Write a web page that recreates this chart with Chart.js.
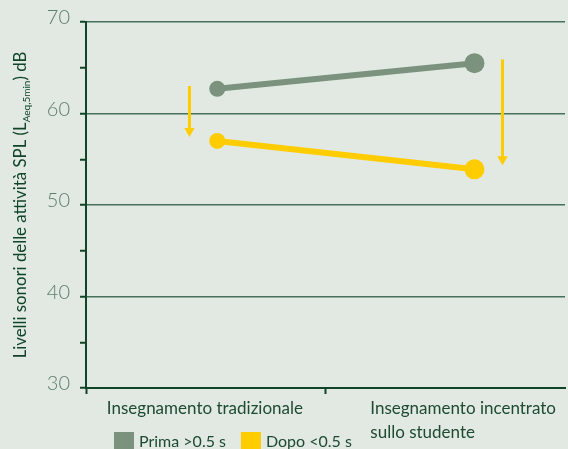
<!DOCTYPE html>
<html>
<head>
<meta charset="utf-8">
<script src="https://cdn.jsdelivr.net/npm/chart.js@4.4.0/dist/chart.umd.min.js"></script>
<style>
html, body { margin: 0; padding: 0; background: #e1e9e2; }
#wrap { width: 568px; height: 449px; }
</style>
</head>
<body>
<div id="wrap"><canvas id="myChart" width="568" height="449"></canvas></div>
<script>
const categories = ['Insegnamento tradizionale', ['Insegnamento incentrato', 'sullo studente']];
const categoryTickX = [0.087, 1.187];   // where each category label starts
const dividerX = [0, 1];
const xEnd = 2;
const pointX = [0.548, 1.622];
const seriesNames = ['Prima >0.5 s', 'Dopo <0.5 s'];
const primaValues = [62.7, 65.5];
const dopoValues = [57.0, 53.9];
const arrowX = [0.432, 1.739];
const arrowTop = [63.0, 65.9];
const arrowHead = [58.1, 55.0];
const yTicks = [30, 40, 50, 60, 70];

const DARK = '#0f4427';
const GRID = '#46705a';
const GRAY = '#7a927e';
const YELLOW = '#ffcc00';
const FONT = 'Lato, "Open Sans", sans-serif';

function arrowDataset(i) {
    return {
        label: 'arrow' + i,
        data: [{x: arrowX[i], y: arrowTop[i]}, {x: arrowX[i], y: arrowHead[i]}],
        borderColor: YELLOW,
        backgroundColor: YELLOW,
        borderWidth: 3,
        pointStyle: 'triangle',
        rotation: 180,
        pointRadius: [0, 6],
        pointBorderWidth: 0,
        pointBackgroundColor: YELLOW
    };
}

// y axis title with subscript
const yTitlePlugin = {
    id: 'yTitle',
    afterDraw(chart) {
        const ctx = chart.ctx;
        const area = chart.chartArea;
        const parts = [
            {t: 'Livelli sonori delle attività SPL (L', size: 16.8, dy: 0},
            {t: 'Aeq,5min', size: 10, dy: 4},
            {t: ') dB', size: 16.8, dy: 0}
        ];
        ctx.save();
        let total = 0;
        parts.forEach(p => {
            ctx.font = p.size + 'px ' + FONT;
            p.w = ctx.measureText(p.t).width;
            total += p.w;
        });
        ctx.translate(26, (area.top + area.bottom) / 2);
        ctx.rotate(-Math.PI / 2);
        ctx.fillStyle = DARK;
        ctx.textBaseline = 'alphabetic';
        let x = -total / 2;
        parts.forEach(p => {
            ctx.font = p.size + 'px ' + FONT;
            ctx.fillText(p.t, x, p.dy);
            x += p.w;
        });
        ctx.restore();
    }
};

// put the legend in the row of the second label line
const legendPlace = {
    id: 'legendPlace',
    afterLayout(chart) {
        const l = chart.legend;
        l.left += 99;
        l.top -= 33;
        l.bottom -= 33;
    }
};

const config = {
    type: 'line',
    data: {
        datasets: [
            {
                label: seriesNames[0],
                data: pointX.map((x, i) => ({x: x, y: primaValues[i]})),
                borderColor: GRAY,
                backgroundColor: GRAY,
                borderWidth: 6,
                pointRadius: [8, 10],
                pointBorderWidth: 0,
                pointBackgroundColor: GRAY
            },
            {
                label: seriesNames[1],
                data: pointX.map((x, i) => ({x: x, y: dopoValues[i]})),
                borderColor: YELLOW,
                backgroundColor: YELLOW,
                borderWidth: 6,
                pointRadius: [8, 10],
                pointBorderWidth: 0,
                pointBackgroundColor: YELLOW
            },
            arrowDataset(0),
            arrowDataset(1)
        ]
    },
    options: {
        responsive: false,
        animation: false,
        events: [],
        layout: {
            autoPadding: false,
            padding: {top: 22, right: -3, left: 0, bottom: -44}
        },
        scales: {
            x: {
                type: 'linear',
                min: 0,
                max: xEnd,
                afterBuildTicks: function (scale) {
                    scale.ticks = dividerX.concat(categoryTickX, [xEnd])
                        .sort((a, b) => a - b)
                        .map(v => ({value: v}));
                },
                afterFit: function (scale) {
                    scale.height = 61;
                },
                grid: {
                    drawOnChartArea: false,
                    tickLength: 6,
                    tickWidth: 2,
                    tickColor: ctx => dividerX.includes(ctx.tick.value) ? DARK : 'transparent'
                },
                border: {color: DARK, width: 2},
                ticks: {
                    autoSkip: false,
                    maxRotation: 0,
                    align: 'start',
                    padding: 3,
                    color: '#1d4a31',
                    font: {family: FONT, size: 17, lineHeight: 1.4},
                    callback: function (value) {
                        const i = categoryTickX.indexOf(value);
                        return i >= 0 ? categories[i] : '';
                    }
                }
            },
            y: {
                min: 30,
                max: 70,
                afterFit: function (scale) {
                    scale.width = 86;
                },
                grid: {
                    color: ctx => yTicks.includes(ctx.tick.value) ? GRID : 'transparent',
                    lineWidth: 1.5,
                    tickColor: DARK,
                    tickLength: 6,
                    tickWidth: 2
                },
                border: {color: DARK, width: 2},
                ticks: {
                    stepSize: 5,
                    padding: 10,
                    labelOffset: -4,
                    color: '#5e7f6a',
                    font: {family: FONT, size: 20, weight: '300'},
                    callback: v => yTicks.includes(v) ? v : ''
                }
            }
        },
        plugins: {
            legend: {
                display: true,
                position: 'bottom',
                align: 'start',
                labels: {
                    boxWidth: 14,
                    boxHeight: 14,
                    padding: 18,
                    color: '#1d4a31',
                    font: {family: FONT, size: 16},
                    filter: item => item.datasetIndex < 2
                }
            },
            tooltip: {enabled: false}
        }
    },
    plugins: [yTitlePlugin, legendPlace]
};

new Chart(document.getElementById('myChart'), config);
</script>
</body>
</html>
